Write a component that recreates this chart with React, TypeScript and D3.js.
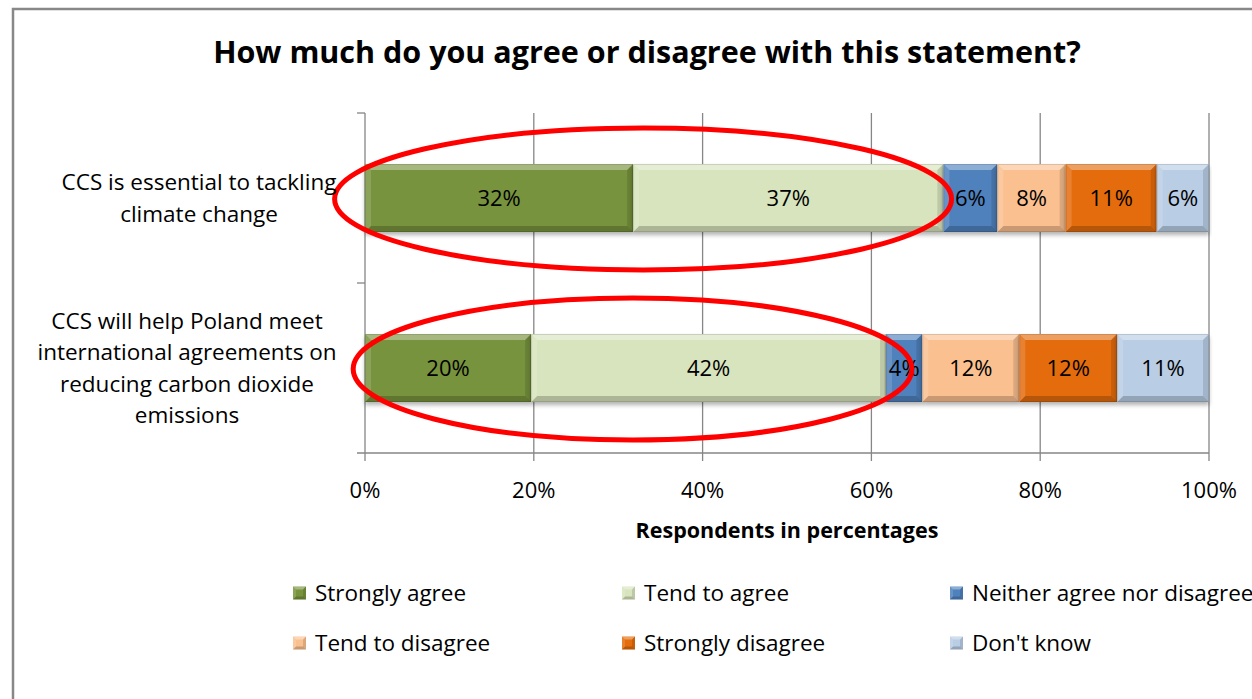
import React from 'react';
import * as d3 from 'd3';

const categories = [
  ['CCS is essential to tackling', 'climate change'],
  ['CCS will help Poland meet', 'international agreements on', 'reducing carbon dioxide', 'emissions'],
];
const seriesNames = ['Strongly agree', 'Tend to agree', 'Neither agree nor disagree', 'Tend to disagree', 'Strongly disagree', "Don't know"];
const seriesColors = ['#77933C', '#D7E4BD', '#4F81BD', '#FAC090', '#E46C0A', '#B9CDE5'];
// percentages (labels show them rounded)
const row1Values = [31.8, 36.8, 6.4, 8.1, 10.8, 6.2];
const row2Values = [19.7, 42.1, 4.3, 11.5, 11.6, 10.9];
const xTicks = [0, 0.2, 0.4, 0.6, 0.8, 1];
// highlight ellipses, in axis units (fraction of 100%)
const highlights = [
  { row: 0, from: -0.036, to: 0.695 },
  { row: 1, from: -0.014, to: 0.648 },
];

const W = 1252;
const H = 699;
const FONT = '"Open Sans", Lato, sans-serif';
const margin = { left: 365, right: 43, top: 113, bottom: 246 };

const App: React.FC = () => {
  const allValues = [row1Values, row2Values];
  const rows = allValues.map((vals, i) => {
    const o: any = { id: i };
    seriesNames.forEach((s, j) => (o[s] = vals[j]));
    return o;
  });
  const stacked = d3.stack<any>().keys(seriesNames).offset(d3.stackOffsetExpand)(rows);

  const x = d3.scaleLinear().domain([0, 1]).range([margin.left, W - margin.right]);
  const y = d3.scaleBand<number>().domain([0, 1]).range([margin.top, H - margin.bottom]).paddingInner(0.6).paddingOuter(0.3);
  const bw = y.bandwidth();
  const y0 = margin.top;
  const y1 = H - margin.bottom;
  const bev = 6;

  const bevel = (bx: number, by: number, w: number, h: number, b: number, key: string) => {
    const bb = Math.min(b, w / 2, h / 2);
    return (
      <g key={key}>
        <polygon points={`${bx},${by} ${bx + w},${by} ${bx + w - bb},${by + bb} ${bx + bb},${by + bb}`} fill="#fff" opacity={0.35} />
        <polygon points={`${bx},${by + h} ${bx + w},${by + h} ${bx + w - bb},${by + h - bb} ${bx + bb},${by + h - bb}`} fill="#000" opacity={0.2} />
        <polygon points={`${bx},${by} ${bx + bb},${by + bb} ${bx + bb},${by + h - bb} ${bx},${by + h}`} fill="#fff" opacity={0.15} />
        <polygon points={`${bx + w},${by} ${bx + w - bb},${by + bb} ${bx + w - bb},${by + h - bb} ${bx + w},${by + h}`} fill="#000" opacity={0.12} />
      </g>
    );
  };

  const legendCols = [293, 622, 950];
  const legendRows = [593, 643];

  return (
    <svg width={W} height={H} style={{ position: 'absolute', left: 0, top: 0, background: '#fff' }} fontFamily={FONT}>
      <defs>
        <filter id="shadow" x="-5%" y="-20%" width="110%" height="150%">
          <feDropShadow dx="0" dy="3" stdDeviation="2" floodColor="#000" floodOpacity="0.3" />
        </filter>
      </defs>
      <rect x={13} y={9} width={W + 50} height={H + 50} fill="#fff" stroke="#888" strokeWidth={2.5} />

      <text x={647} y={63} textAnchor="middle" fontWeight="bold" fontSize={30.5} fill="#000">
        How much do you agree or disagree with this statement?
      </text>

      {/* gridlines */}
      {xTicks.slice(1).map((t) => (
        <line key={t} x1={x(t)} x2={x(t)} y1={y0} y2={y1 + 8} stroke="#868686" strokeWidth={1.3} />
      ))}
      {/* axes */}
      <line x1={x(0)} x2={x(0)} y1={y0} y2={y1 + 8} stroke="#868686" strokeWidth={1.3} />
      <line x1={x(0) - 8} x2={x(1)} y1={y1} y2={y1} stroke="#868686" strokeWidth={1.3} />
      {[y0, y0 + (y1 - y0) / 2].map((v) => (
        <line key={v} x1={x(0) - 8} x2={x(0)} y1={v} y2={v} stroke="#868686" strokeWidth={1.3} />
      ))}

      {/* bars */}
      {stacked.map((layer, si) =>
        layer.map((d, ri) => {
          const bx = x(d[0]);
          const w = x(d[1]) - x(d[0]);
          const by = y(ri)!;
          return (
            <g key={`${si}-${ri}`}>
              <rect x={bx} y={by} width={w} height={bw} fill={seriesColors[si]} filter="url(#shadow)" />
              {bevel(bx, by, w, bw, bev, 'b')}
              <rect x={bx + 0.5} y={by + 0.5} width={w - 1} height={bw - 1} fill="none" stroke="#000" strokeOpacity={0.12} />
            </g>
          );
        })
      )}
      {stacked.map((layer, si) =>
        layer.map((d, ri) => (
          <text key={`l${si}-${ri}`} x={(x(d[0]) + x(d[1])) / 2} y={y(ri)! + bw / 2 + 8} textAnchor="middle" fontSize={22} fill="#000">
            {`${Math.round(allValues[ri][si])}%`}
          </text>
        ))
      )}

      {/* highlight ellipses */}
      {highlights.map((h) => (
        <ellipse key={h.row} cx={(x(h.from) + x(h.to)) / 2} cy={y(h.row)! + bw / 2 + 1} rx={(x(h.to) - x(h.from)) / 2} ry={71} fill="none" stroke="#FF0000" strokeWidth={5} />
      ))}

      {/* category labels */}
      {categories.map((lines, i) => {
        const cy = y(i)! + bw / 2;
        const lh = 31.5;
        const cx = i === 0 ? 199 : 187;
        return lines.map((ln, k) => (
          <text key={`${i}-${k}`} x={cx} y={cy + (k - (lines.length - 1) / 2) * lh + 8} textAnchor="middle" fontSize={22.5} fill="#000">
            {ln}
          </text>
        ));
      })}

      {/* x tick labels */}
      {xTicks.map((t) => (
        <text key={t} x={x(t)} y={498} textAnchor="middle" fontSize={22} fill="#000">
          {d3.format('.0%')(t)}
        </text>
      ))}
      <text x={787} y={538} textAnchor="middle" fontWeight="bold" fontSize={21.5} fill="#000">
        Respondents in percentages
      </text>

      {/* legend */}
      {seriesNames.map((s, i) => {
        const lx = legendCols[i % 3];
        const ly = legendRows[Math.floor(i / 3)];
        return (
          <g key={s}>
            <rect x={lx} y={ly - 6.5} width={13} height={13} fill={seriesColors[i]} />
            {bevel(lx, ly - 6.5, 13, 13, 3, 'lb')}
            <text x={lx + 22} y={ly + 8} fontSize={22.5} fill="#000">
              {s}
            </text>
          </g>
        );
      })}
    </svg>
  );
};

export default App;
